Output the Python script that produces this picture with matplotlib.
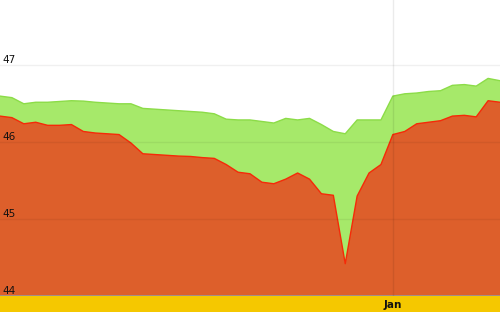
import pandas as pd
import numpy as np
import matplotlib.pyplot as plt
import matplotlib.dates as mdates

# daily values, 29 Nov -> 10 Jan
dates = pd.date_range('2012-11-29', '2013-01-10', freq='D')

high = [46.60, 46.58, 46.50, 46.52, 46.52, 46.53, 46.54, 46.535, 46.52, 46.51,
        46.50, 46.50, 46.44, 46.43, 46.42, 46.41, 46.40, 46.39, 46.37, 46.30,
        46.29, 46.29, 46.27, 46.25, 46.31, 46.29, 46.31, 46.23, 46.14, 46.11,
        46.29, 46.29, 46.29, 46.60, 46.63, 46.64, 46.66, 46.67, 46.74, 46.75,
        46.73, 46.83, 46.80]

low = [46.34, 46.32, 46.24, 46.26, 46.22, 46.22, 46.23, 46.14, 46.12, 46.11,
       46.10, 45.99, 45.85, 45.84, 45.83, 45.82, 45.815, 45.80, 45.79, 45.71,
       45.61, 45.59, 45.48, 45.46, 45.52, 45.60, 45.52, 45.33, 45.31, 44.42,
       45.30, 45.60, 45.71, 46.10, 46.14, 46.24, 46.26, 46.28, 46.34, 46.35,
       46.33, 46.54, 46.52]

y_ticks = [44, 45, 46, 47]

fig = plt.figure(figsize=(5, 3.12), dpi=100)
fig.patch.set_facecolor('#f5c800')
ax = fig.add_axes([0, 16 / 312, 1, 296 / 312])
ax.set_facecolor('white')

bottom = 44
ax.fill_between(dates, high, bottom, color='#a6e96a', lw=0, zorder=1)
ax.plot(dates, high, color='#8cdc48', lw=1, zorder=2)
ax.fill_between(dates, low, bottom, color='#dd5f2b', lw=0, zorder=3)
ax.plot(dates, low, color='#f52a08', lw=1, zorder=4)

ax.set_xlim(dates[0], dates[-1])
ax.set_ylim(44, 47.85)

# grid drawn over the fills, faint
for v in y_ticks:
    ax.axhline(v, color='#000000', alpha=0.06, lw=1, zorder=5)
ax.axhline(44, color='#999999', lw=1.2, zorder=5)
jan = pd.Timestamp('2013-01-01')
ax.axvline(jan, color='#000000', alpha=0.08, lw=1, zorder=5)

ax.set_yticks(y_ticks)
ax.set_yticklabels([str(v) for v in y_ticks])
ax.tick_params(axis='y', length=0, pad=-2, labelsize=7.5, labelcolor='#111111')
for lab in ax.get_yticklabels():
    lab.set_ha('left')
    lab.set_va('bottom')
ax.yaxis.set_zorder(10)

ax.set_xticks([jan])
ax.set_xticklabels(['Jan'])
ax.tick_params(axis='x', length=0, pad=3, labelsize=7.5, labelcolor='#111111')
for lab in ax.get_xticklabels():
    lab.set_fontweight('bold')

for s in ax.spines.values():
    s.set_visible(False)

plt.savefig('out.png', dpi=100, facecolor=fig.get_facecolor())
